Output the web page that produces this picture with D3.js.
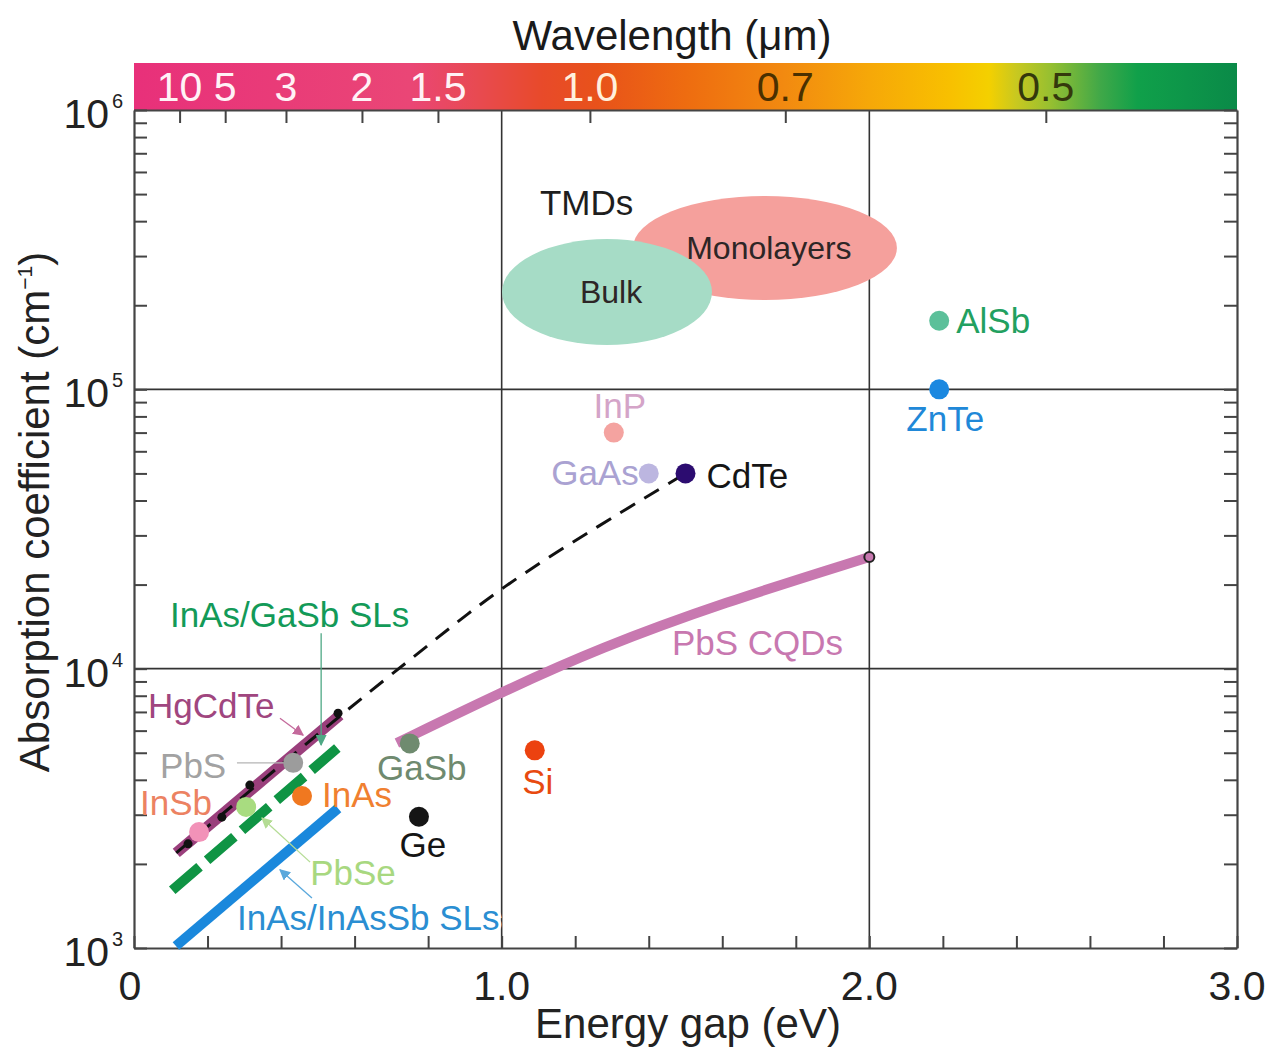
<!DOCTYPE html>
<html lang="en">
<head>
<meta charset="utf-8">
<script src="https://cdnjs.cloudflare.com/ajax/libs/d3/7.8.5/d3.min.js"></script>
<style>
  body { margin: 0; background: #fff; }
  svg text { font-family: "Liberation Sans", Arial, Helvetica, sans-serif; }
</style>
</head>
<body>
<svg id="chart" width="1271" height="1047"></svg>
<script>

// ---- values ----
var materials = ["AlSb", "ZnTe", "InP", "GaAs", "CdTe", "Si", "Ge", "GaSb", "InAs", "PbS", "PbSe", "InSb"];
var gapEV     = [2.19, 2.19, 1.305, 1.40, 1.50, 1.09, 0.775, 0.75, 0.457, 0.433, 0.305, 0.177];
var absCoef   = [1.76e5, 1.0e5, 7.0e4, 5.0e4, 5.0e4, 5.1e3, 2.95e3, 5.4e3, 3.5e3, 4.6e3, 3.2e3, 2.6e3];

// HgCdTe band + black dashed trend running on to CdTe
var hgGap = [0.115, 0.56];
var hgAlpha = [2190, 6820];
var trendGap = [0.115, 0.56, 0.813, 0.995, 1.267, 1.50];
var trendAlpha = [2190, 6820, 12500, 19450, 32700, 50000];
var hgDotGap = [0.147, 0.239, 0.315, 0.555];
var hgDotAlpha = [2360, 2940, 3830, 6930];

// superlattices
var slGaSbGap = [0.104, 0.553];
var slGaSbAlpha = [1610, 5200];
var slInAsSbGap = [0.114, 0.555];
var slInAsSbAlpha = [1017, 3160];

// PbS colloidal quantum dots
var cqdGap = [0.715, 0.995, 1.267, 1.6, 2.0];
var cqdAlpha = [5420, 8190, 11860, 17180, 25100];

// TMD regions (extent in eV and cm^-1)
var tmdNames = ["Monolayers", "Bulk"];
var tmdGapRange = [[1.357, 2.075], [1.001, 1.572]];
var tmdAlphaRange = [[2.09e5, 4.92e5], [1.44e5, 3.45e5]];

// axes
var energyTicks = [0, 0.2, 0.4, 0.6, 0.8, 1.0, 1.2, 1.4, 1.6, 1.8, 2.0, 2.2, 2.4, 2.6, 2.8, 3.0];
var energyLabels = ["0", "1.0", "2.0", "3.0"];
var energyLabelValues = [0, 1, 2, 3];
var wavelengths = [10, 5, 3, 2, 1.5, 1.0, 0.7, 0.5];
var wavelengthLabels = ["10", "5", "3", "2", "1.5", "1.0", "0.7", "0.5"];
var decades = [3, 4, 5, 6];

// ---- styles / layout ----
var pointColor = {AlSb:"#5cc09a", ZnTe:"#1b88e0", InP:"#f4a3a0", GaAs:"#bcb6e0", CdTe:"#2c0c70",
  Si:"#ec4210", Ge:"#151515", GaSb:"#6f8b6f", InAs:"#f07820", PbS:"#9c9c9c", PbSe:"#a8dc80", InSb:"#f292b8"};
var labelColor = {AlSb:"#22a060", ZnTe:"#2088d8", InP:"#d4a4c8", GaAs:"#aaa2d2", CdTe:"#151515",
  Si:"#e84a10", Ge:"#151515", GaSb:"#6f8a6f", InAs:"#f08030", PbS:"#a2a2a2", PbSe:"#a8d880", InSb:"#ec8262"};
// label offset from the dot (px) and anchor
var labelPos = {AlSb:[17,12,"start"], ZnTe:[6,42,"middle"], InP:[6,-15,"middle"], GaAs:[-10,12,"end"],
  CdTe:[21,15,"start"], Si:[3,44,"middle"], Ge:[4,40,"middle"], GaSb:[12,37,"middle"],
  InAs:[20,11,"start"], PbS:[-67,15,"end"], PbSe:[64,78,"start"], InSb:[13,-17,"end"]};

var svg = d3.select("#chart");
var plotL = 134, plotR = 1237, plotT = 110, plotB = 948;

var x = d3.scaleLinear().domain([0, 3]).range([plotL, plotR]);
var y = d3.scaleLog().domain([1e3, 1e6]).range([plotB, plotT]);

var font = 41;
var labelFont = 35;

// ---- wavelength colour bar ----
var defs = svg.append("defs");
var grad = defs.append("linearGradient").attr("id", "spectrum");
var gradStops = [[0, "#e8307a"], [0.25, "#ea4676"], [0.31, "#e84a52"], [0.37, "#e84a2a"], [0.42, "#e8521a"],
  [0.5, "#ee6c10"], [0.59, "#f28a10"], [0.667, "#f6a808"], [0.74, "#f8c000"], [0.775, "#f4d000"],
  [0.80, "#c8c820"], [0.83, "#98c030"], [0.876, "#40a848"], [0.91, "#10a04a"], [1, "#0a8a48"]];
grad.selectAll("stop").data(gradStops).enter().append("stop")
  .attr("offset", function(d) { return d[0]; })
  .attr("stop-color", function(d) { return d[1]; });

svg.append("rect").attr("x", plotL).attr("y", 63).attr("width", plotR - plotL).attr("height", plotT - 63)
  .attr("fill", "url(#spectrum)");

var wlLabelColor = ["#fff2f6", "#fff2f6", "#fff2f6", "#fff2f6", "#fff2f6", "#fff0dc", "#4a3000", "#34380c"];
svg.selectAll(".wl").data(wavelengths).enter().append("text")
  .attr("class", "wl")
  .attr("x", function(d) { return x(1.24 / d); })
  .attr("y", 101)
  .attr("text-anchor", "middle")
  .attr("font-size", font)
  .attr("fill", function(d, i) { return wlLabelColor[i]; })
  .text(function(d, i) { return wavelengthLabels[i]; });

svg.append("text").attr("x", 672).attr("y", 50).attr("text-anchor", "middle")
  .attr("font-size", 42).attr("fill", "#1a1a1a").text("Wavelength (\u03bcm)");

// ---- grid lines ----
var grid = svg.append("g").attr("stroke", "#333").attr("stroke-width", 1.6);
[1, 2].forEach(function(v) {
  grid.append("line").attr("x1", x(v)).attr("x2", x(v)).attr("y1", plotT).attr("y2", plotB);
});
[1e4, 1e5].forEach(function(v) {
  grid.append("line").attr("x1", plotL).attr("x2", plotR).attr("y1", y(v)).attr("y2", y(v));
});

// ---- axes (ticks point inward) ----
function styleAxis(g) {
  g.select(".domain").attr("stroke", "#444").attr("stroke-width", 2.2);
  g.selectAll(".tick line").attr("stroke", "#444").attr("stroke-width", 2);
  g.selectAll(".tick text").remove();
}
svg.append("g").attr("transform", "translate(" + plotL + ",0)")
  .call(d3.axisLeft(y).ticks(10).tickSize(-13).tickSizeOuter(0)).call(styleAxis);
svg.append("g").attr("transform", "translate(" + plotR + ",0)")
  .call(d3.axisRight(y).ticks(10).tickSize(-13).tickSizeOuter(0)).call(styleAxis);
svg.append("g").attr("transform", "translate(0," + plotB + ")")
  .call(d3.axisBottom(x).tickValues(energyTicks).tickSize(-12).tickSizeOuter(0)).call(styleAxis);
svg.append("g").attr("transform", "translate(0," + plotT + ")")
  .call(d3.axisTop(x).tickValues(wavelengths.map(function(w) { return 1.24 / w; })).tickSize(-13).tickSizeOuter(0))
  .call(styleAxis);

// tick labels
svg.selectAll(".xl").data(energyLabelValues).enter().append("text")
  .attr("x", function(d) { return d === 0 ? x(d) - 4 : x(d); })
  .attr("y", 1000).attr("text-anchor", "middle").attr("font-size", font).attr("fill", "#222")
  .text(function(d, i) { return energyLabels[i]; });

var yl = svg.selectAll(".yl").data(decades).enter().append("g");
yl.append("text").attr("x", 109).attr("y", function(d) { return y(Math.pow(10, d)) + 18; })
  .attr("text-anchor", "end").attr("font-size", font).attr("fill", "#222").text("10");
yl.append("text").attr("x", 112).attr("y", function(d) { return y(Math.pow(10, d)) - 2; })
  .attr("font-size", 20).attr("fill", "#222").text(function(d) { return d; });

// axis titles
svg.append("text").attr("x", 688).attr("y", 1038).attr("text-anchor", "middle")
  .attr("font-size", 42).attr("fill", "#222").text("Energy gap (eV)");
var yt = svg.append("text").attr("transform", "translate(49,512) rotate(-90)")
  .attr("text-anchor", "middle").attr("font-size", 42).attr("fill", "#222");
yt.append("tspan").text("Absorption coefficient (cm");
yt.append("tspan").attr("font-size", 21).attr("dy", -17).text("\u22121");
yt.append("tspan").attr("dy", 17).text(")");

// ---- TMD ellipses ----
var tmdColor = ["#f5a09c", "#a6dcc6"];
tmdNames.forEach(function(name, i) {
  var x0 = x(tmdGapRange[i][0]), x1 = x(tmdGapRange[i][1]);
  var y0 = y(tmdAlphaRange[i][0]), y1 = y(tmdAlphaRange[i][1]);
  svg.append("ellipse").attr("cx", (x0 + x1) / 2).attr("cy", (y0 + y1) / 2)
    .attr("rx", (x1 - x0) / 2).attr("ry", (y0 - y1) / 2).attr("fill", tmdColor[i]);
});
tmdNames.forEach(function(name, i) {
  var cx = (x(tmdGapRange[i][0]) + x(tmdGapRange[i][1])) / 2;
  var cy = (y(tmdAlphaRange[i][0]) + y(tmdAlphaRange[i][1])) / 2;
  svg.append("text").attr("x", cx + 4).attr("y", cy + 11).attr("text-anchor", "middle")
    .attr("font-size", 32).attr("fill", "#2d2626").text(name);
});
svg.append("text").attr("x", x(1.104)).attr("y", y(4.21e5)).attr("font-size", labelFont)
  .attr("fill", "#1e1e1e").text("TMDs");

// ---- curves ----
function pts(g, a) { return g.map(function(v, i) { return [v, a[i]]; }); }
var line = d3.line().x(function(d) { return x(d[0]); }).y(function(d) { return y(d[1]); })
  .curve(d3.curveBasis);

svg.append("path").attr("d", line(pts(cqdGap, cqdAlpha))).attr("fill", "none")
  .attr("stroke", "#c878b0").attr("stroke-width", 10);
svg.append("circle").attr("cx", x(cqdGap[cqdGap.length - 1])).attr("cy", y(cqdAlpha[cqdAlpha.length - 1]))
  .attr("r", 5).attr("fill", "#c878b0").attr("stroke", "#222").attr("stroke-width", 2);

svg.append("path").attr("d", line(pts(slInAsSbGap, slInAsSbAlpha))).attr("fill", "none")
  .attr("stroke", "#1a88dc").attr("stroke-width", 10);
svg.append("path").attr("d", line(pts(slGaSbGap, slGaSbAlpha))).attr("fill", "none")
  .attr("stroke", "#0f9444").attr("stroke-width", 10).attr("stroke-dasharray", "36,10");

svg.append("path").attr("d", line(pts(hgGap, hgAlpha))).attr("fill", "none")
  .attr("stroke", "#9a3f7c").attr("stroke-width", 11);
svg.append("path").attr("d", line(pts(trendGap, trendAlpha))).attr("fill", "none")
  .attr("stroke", "#111").attr("stroke-width", 3).attr("stroke-dasharray", "17,11");
svg.selectAll(".hgdot").data(hgDotGap).enter().append("circle")
  .attr("cx", function(d) { return x(d); })
  .attr("cy", function(d, i) { return y(hgDotAlpha[i]); })
  .attr("r", 4.5).attr("fill", "#111");

// ---- annotation arrows ----
function marker(id, color) {
  defs.append("marker").attr("id", id).attr("viewBox", "0 0 10 10").attr("refX", 9).attr("refY", 5)
    .attr("markerWidth", 11).attr("markerHeight", 11).attr("markerUnits", "userSpaceOnUse")
    .attr("orient", "auto")
    .append("path").attr("d", "M0,0 L10,5 L0,10 z").attr("fill", color);
}
var arrows = [
  {id: "aHg",  color: "#c46a9c", g: [0.397, 0.46],  a: [6650, 5780], head: true},
  {id: "aSL",  color: "#4ea884", g: [0.509, 0.509], a: [13400, 5330], head: true},
  {id: "aPbS", color: "#b4b4b4", g: [0.28, 0.41],   a: [4600, 4600], head: false},
  {id: "aSe",  color: "#b4dc94", g: [0.479, 0.348], a: [2030, 2920], head: true},
  {id: "aSb",  color: "#5aa8dc", g: [0.484, 0.397], a: [1510, 1905], head: true}
];
arrows.forEach(function(d) {
  if (d.head) marker(d.id, d.color);
  svg.append("line").attr("x1", x(d.g[0])).attr("y1", y(d.a[0])).attr("x2", x(d.g[1])).attr("y2", y(d.a[1]))
    .attr("stroke", d.color).attr("stroke-width", 1.3)
    .attr("marker-end", d.head ? "url(#" + d.id + ")" : null);
});

// ---- material points ----
svg.selectAll(".pt").data(materials).enter().append("circle")
  .attr("cx", function(d, i) { return x(gapEV[i]); })
  .attr("cy", function(d, i) { return y(absCoef[i]); })
  .attr("r", 10)
  .attr("fill", function(d) { return pointColor[d]; });

svg.selectAll(".pl").data(materials).enter().append("text")
  .attr("x", function(d, i) { return x(gapEV[i]) + labelPos[d][0]; })
  .attr("y", function(d, i) { return y(absCoef[i]) + labelPos[d][1]; })
  .attr("text-anchor", function(d) { return labelPos[d][2]; })
  .attr("font-size", labelFont)
  .attr("fill", function(d) { return labelColor[d]; })
  .text(function(d) { return d; });

// ---- line labels ----
var lineLabels = [
  {t: "InAs/GaSb SLs",   g: 0.098, a: 14100, c: "#139a58", halo: false},
  {t: "HgCdTe",          g: 0.038, a: 6650,  c: "#a0467f", halo: false},
  {t: "InAs/InAsSb SLs", g: 0.28,  a: 1160,  c: "#2a8ed2", halo: true},
  {t: "PbS CQDs",        g: 1.463, a: 11200, c: "#c878b0", halo: false}
];
lineLabels.forEach(function(d) {
  svg.append("text").attr("x", x(d.g)).attr("y", y(d.a)).attr("font-size", labelFont).attr("fill", d.c)
    .attr("stroke", d.halo ? "#fff" : null).attr("stroke-width", d.halo ? 6 : null)
    .attr("paint-order", "stroke").text(d.t);
});

</script>
</body>
</html>
